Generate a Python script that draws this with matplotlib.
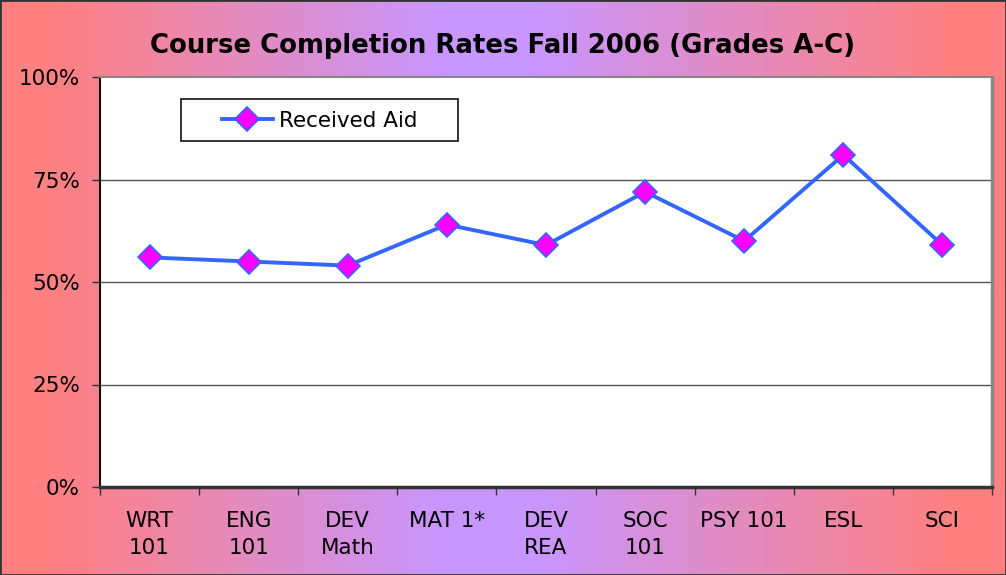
import matplotlib
matplotlib.use("Agg")
import matplotlib.pyplot as plt
import numpy as np
from matplotlib.colors import LinearSegmentedColormap
from matplotlib.patches import Rectangle

categories = ["WRT\n101", "ENG\n101", "DEV\nMath", "MAT 1*", "DEV\nREA", "SOC\n101", "PSY 101", "ESL", "SCI"]
received_aid = [56, 55, 54, 64, 59, 72, 60, 81, 59]
yticks = [0, 25, 50, 75, 100]
ytick_labels = ["0%", "25%", "50%", "75%", "100%"]

W, H = 1006, 575
fig = plt.figure(figsize=(W / 100, H / 100), dpi=100)

# background gradient
bg = fig.add_axes([0, 0, 1, 1], zorder=-10)
cmap = LinearSegmentedColormap.from_list(
    "g", [(0.0, "#FF8080"), (0.05, "#FF8080"), (0.44, "#C896FF"), (0.53, "#C896FF"),
          (0.95, "#FF8080"), (1.0, "#FF8080")])
grad = np.linspace(0, 1, 1006).reshape(1, -1)
bg.imshow(grad, aspect="auto", cmap=cmap, extent=[0, 1, 0, 1])
bg.set_xlim(0, 1)
bg.set_ylim(0, 1)
bg.set_axis_off()
bg.add_patch(Rectangle((0.0, 0.0), 1, 1, transform=bg.transAxes, fill=False,
                       edgecolor="#333333", linewidth=2.0, clip_on=False))

# plot area
left, right, top, bottom = 100, 992, 77, 487
ax = fig.add_axes([left / W, 1 - bottom / H, (right - left) / W, (bottom - top) / H])
ax.set_facecolor("white")
x = np.arange(len(categories))
ax.plot(x, received_aid, color="#3366FF", linewidth=2.8, marker="D", markersize=12,
        markerfacecolor="#FF00FF", markeredgecolor="#3366FF", markeredgewidth=1.2,
        label="Received Aid", zorder=5)

ax.set_xlim(-0.5, len(categories) - 0.5)
ax.set_ylim(0, 100)
ax.set_yticks(yticks)
ax.set_yticklabels(ytick_labels, fontsize=15.5)
for y in yticks[1:4]:
    ax.axhline(y, color="#555555", linewidth=1.0, zorder=1)

ax.set_xticks(x)
ax.set_xticklabels(categories, fontsize=15.5, linespacing=1.45, va="top")
ax.set_xticks(np.arange(-0.5, len(categories), 1.0), minor=True)
ax.tick_params(axis="x", which="major", length=0, pad=17)
ax.tick_params(axis="x", which="minor", length=6, width=1.0, color="#333333", direction="out")
ax.tick_params(axis="y", length=6, width=1.0, color="#333333", direction="out", pad=8.5)

ax.spines["left"].set_color("#111111")
ax.spines["left"].set_linewidth(1.5)
ax.spines["bottom"].set_color("#333333")
ax.spines["bottom"].set_linewidth(2.5)
ax.spines["right"].set_color("#888888")
ax.spines["right"].set_linewidth(2.5)
ax.spines["top"].set_color("#888888")
ax.spines["top"].set_linewidth(1.5)

# legend frame (fixed box like the original) and legend entry
lx0, lx1, ly0, ly1 = 181, 458, 99, 141
frame = Rectangle((lx0 / W, 1 - ly1 / H), (lx1 - lx0) / W, (ly1 - ly0) / H,
                  transform=fig.transFigure, facecolor="white", edgecolor="#111111",
                  linewidth=1.2, zorder=10)
fig.patches.append(frame)
leg = fig.legend(loc="center left", bbox_to_anchor=(222 / W, 1 - 121 / H),
                 fontsize=15.5, frameon=False, borderpad=0, borderaxespad=0,
                 handlelength=2.35, handletextpad=0.28)
leg.set_zorder(11)

fig.text(0.5, 1 - 46 / H, "Course Completion Rates Fall 2006 (Grades A-C)",
         ha="center", va="center", fontsize=18.7, fontweight="bold")

fig.savefig("out.png", dpi=100)
